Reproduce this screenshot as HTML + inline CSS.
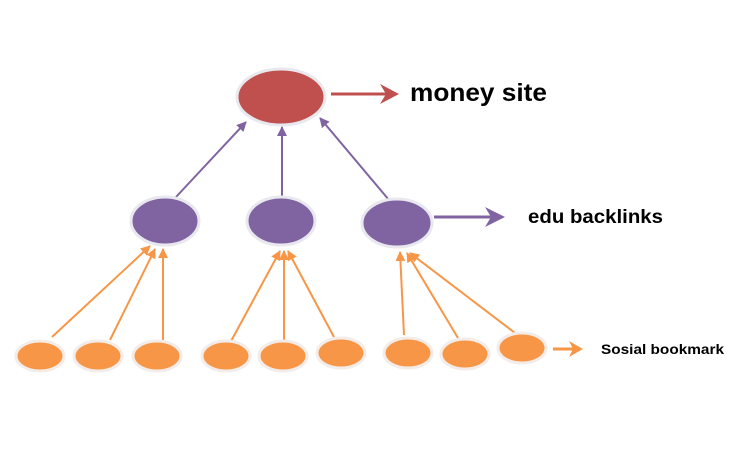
<!DOCTYPE html>
<html><head><meta charset="utf-8"><style>
html,body{margin:0;padding:0;background:#fff;}
svg{display:block;}
text{font-family:"Liberation Sans",sans-serif;font-weight:bold;fill:#000;}
</style></head><body>
<svg width="734" height="461" viewBox="0 0 734 461" xmlns="http://www.w3.org/2000/svg">
<defs>
<marker id="ap" markerWidth="10" markerHeight="10" refX="9" refY="5" orient="auto" markerUnits="userSpaceOnUse"><path d="M0,0 L10,5 L0,10 z" fill="#8064a2"/></marker>
<marker id="ao" markerWidth="10" markerHeight="10" refX="9" refY="5" orient="auto" markerUnits="userSpaceOnUse"><path d="M0,0 L10,5 L0,10 z" fill="#f79646"/></marker>
</defs>
<g stroke="#8064a2" stroke-width="2" marker-end="url(#ap)">
<line x1="176" y1="197" x2="246" y2="122"/>
<line x1="282" y1="197" x2="282" y2="127"/>
<line x1="389" y1="200" x2="320" y2="118"/>
</g>
<g stroke="#f79646" stroke-width="2" marker-end="url(#ao)">
<line x1="52" y1="337" x2="150" y2="246"/>
<line x1="110" y1="340" x2="155" y2="249"/>
<line x1="163" y1="343" x2="163" y2="249"/>
<line x1="230" y1="343" x2="280" y2="251"/>
<line x1="284" y1="343" x2="284" y2="251"/>
<line x1="334" y1="337" x2="288" y2="251"/>
<line x1="404" y1="335" x2="400" y2="252"/>
<line x1="458" y1="338" x2="407" y2="253"/>
<line x1="515" y1="333" x2="410" y2="253"/>
</g>
<g stroke="#e8e8ee" stroke-width="3">
<ellipse cx="281" cy="97" rx="44" ry="28" fill="#c0504d"/>
<ellipse cx="165" cy="221" rx="34" ry="24" fill="#8064a2"/>
<ellipse cx="281" cy="221" rx="34" ry="24" fill="#8064a2"/>
<ellipse cx="397" cy="223" rx="35" ry="24" fill="#8064a2"/>
</g>
<g fill="#f79646" stroke="#f3ece8" stroke-width="3">
<ellipse cx="40" cy="356" rx="24" ry="15"/>
<ellipse cx="98" cy="356" rx="24" ry="15"/>
<ellipse cx="157" cy="356" rx="24" ry="15"/>
<ellipse cx="226" cy="356" rx="24" ry="15"/>
<ellipse cx="283" cy="356" rx="24" ry="15"/>
<ellipse cx="341" cy="353" rx="24" ry="15"/>
<ellipse cx="408" cy="353" rx="24" ry="15"/>
<ellipse cx="465" cy="354" rx="24" ry="15"/>
<ellipse cx="522" cy="348" rx="24" ry="15"/>
</g>
<line x1="331" y1="94" x2="396" y2="94" stroke="#c0504d" stroke-width="3"/>
<path d="M380,84 L399,94 L380,104 L386,94 z" fill="#c0504d"/>
<line x1="434" y1="217" x2="502" y2="217" stroke="#8064a2" stroke-width="3"/>
<path d="M485,207 L505,217 L485,227 L491,217 z" fill="#8064a2"/>
<line x1="553" y1="349" x2="580" y2="349" stroke="#f79646" stroke-width="3"/>
<path d="M569,341 L583,349 L569,357 L573,349 z" fill="#f79646"/>
<text x="410" y="101" font-size="25" textLength="137" lengthAdjust="spacingAndGlyphs">money site</text>
<text x="528" y="223" font-size="19" textLength="135" lengthAdjust="spacingAndGlyphs">edu backlinks</text>
<text x="601" y="354" font-size="14" textLength="123" lengthAdjust="spacingAndGlyphs">Sosial bookmark</text>
</svg>
</body></html>
